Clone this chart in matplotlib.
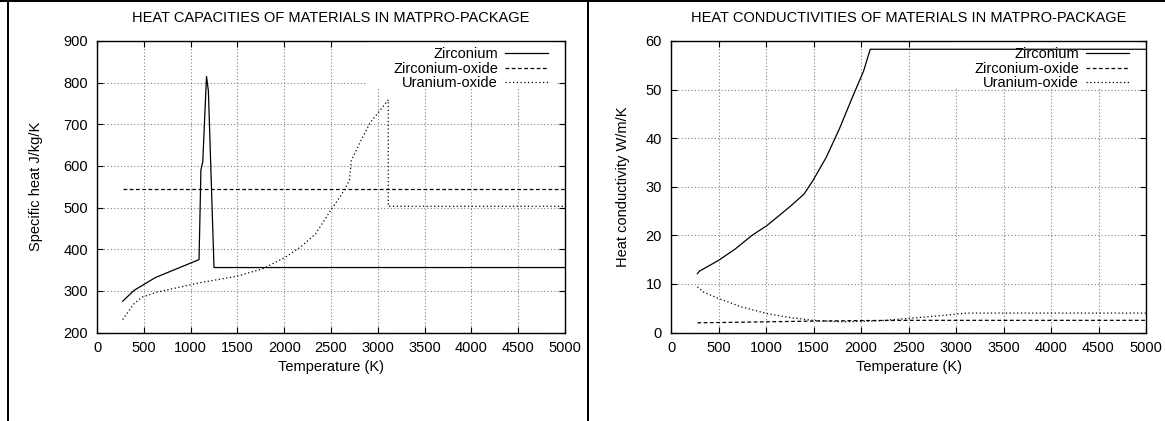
import matplotlib
matplotlib.use("Agg")
import matplotlib.pyplot as plt
from matplotlib.lines import Line2D
from matplotlib.patches import Rectangle

plt.rcParams['font.family'] = ['Liberation Sans', 'DejaVu Sans']
FS = 10.5

# ---------------- data ----------------
# Specific heat (J/kg/K)
zr_cp_T = [274, 395, 624, 1090, 1100, 1110, 1130, 1170, 1190, 1250, 5000]
zr_cp_v = [275, 301, 332, 375, 480, 590, 610, 815, 780, 356, 356]
zro2_cp_T = [274, 5000]
zro2_cp_v = [544, 544]
uo2_cp_T = [274, 395, 483, 644, 1087, 1490, 1771, 2013, 2174, 2335, 2496, 2617, 2697,
            2717, 2818, 2919, 3019, 3112, 3112, 5000]
uo2_cp_v = [231, 269, 285, 297, 319, 335, 353, 381, 405, 437, 493, 533, 565,
            613, 660, 704, 732, 759, 503, 503]

# Heat conductivity (W/m/K)
zr_k_T = [278, 297, 501, 677, 853, 1009, 1264, 1401, 1498, 1635, 1772, 1909, 2027, 2097, 5000]
zr_k_v = [12.1, 12.6, 14.85, 17.2, 20.0, 22.0, 26.1, 28.5, 31.4, 36.1, 41.9, 48.4, 53.8, 58.3, 58.3]
zro2_k_T = [278, 500, 1000, 1500, 2000, 2500, 5000]
zro2_k_v = [2.0, 2.05, 2.2, 2.35, 2.45, 2.5, 2.5]
uo2_k_T = [278, 344, 501, 736, 1009, 1244, 1498, 1792, 2183, 2496, 2770, 3005, 3112, 5000]
uo2_k_v = [9.4, 8.3, 7.0, 5.3, 3.9, 3.1, 2.5, 2.2, 2.4, 2.9, 3.35, 3.8, 4.0, 4.0]

labels = ["Zirconium", "Zirconium-oxide", "Uranium-oxide"]
xticks = list(range(0, 5001, 500))
cp_yticks = list(range(200, 901, 100))
k_yticks = list(range(0, 61, 10))

titles = ["HEAT CAPACITIES OF MATERIALS IN MATPRO-PACKAGE",
          "HEAT CONDUCTIVITIES OF MATERIALS IN MATPRO-PACKAGE"]
ylabels = ["Specific heat J/kg/K", "Heat conductivity W/m/K"]
xlabel = "Temperature (K)"

# ---------------- figure ----------------
W, H = 1165, 421
fig = plt.figure(figsize=(W / 100, H / 100), dpi=100)

styles = [dict(color='black', lw=0.9, ls='-'),
          dict(color='black', lw=0.9, ls=(0, (3, 2))),
          dict(color='black', lw=0.9, ls=(0, (1, 2)))]


def px_axes(x0, x1, ytop, ybot):
    return fig.add_axes([x0 / W, (H - ybot) / H, (x1 - x0) / W, (ybot - ytop) / H])


panels = [
    dict(box=(97, 565, 41, 332.5), data=[(zr_cp_T, zr_cp_v), (zro2_cp_T, zro2_cp_v), (uo2_cp_T, uo2_cp_v)],
         ylim=(200, 900), yticks=cp_yticks, ylabx=36, legbox=(367, 557)),
    dict(box=(671, 1146, 41, 332.5), data=[(zr_k_T, zr_k_v), (zro2_k_T, zro2_k_v), (uo2_k_T, uo2_k_v)],
         ylim=(0, 60), yticks=k_yticks, ylabx=623, legbox=(949, 1138)),
]

for i, p in enumerate(panels):
    x0, x1, yt, yb = p['box']
    ax = px_axes(x0, x1, yt, yb)
    aw, ah = x1 - x0, yb - yt
    handles = []
    for (T, v), st, lab in zip(p['data'], styles, labels):
        h, = ax.plot(T, v, zorder=3, label=lab, **st)
        handles.append(h)
    ax.set_xlim(0, 5000)
    ax.set_ylim(*p['ylim'])
    ax.set_xticks(xticks)
    ax.set_yticks(p['yticks'])
    ax.set_axisbelow(True)
    ax.grid(True, color='#808080', lw=0.8, ls=(0, (1, 2)))
    ax.tick_params(direction='in', length=4, width=0.8, top=True, right=True,
                   labelsize=FS, color='black')
    ax.tick_params(axis='y', pad=6.5)
    ax.tick_params(axis='x', pad=6)
    for s in ax.spines.values():
        s.set_linewidth(1.0)
        s.set_color('black')
    # cleared key area
    lx0, lx1 = p['legbox']
    ax.add_patch(Rectangle(((lx0 - x0) / aw, (yb - 89) / ah), (lx1 - lx0) / aw, (89 - yt) / ah,
                           transform=ax.transAxes, facecolor='white', edgecolor='none', zorder=1))
    leg = ax.legend(handles=handles, loc='upper right', markerfirst=False, frameon=False,
                    fontsize=FS, handlelength=2.9, handletextpad=0.5, labelspacing=0.02,
                    borderpad=0.4, borderaxespad=0,
                    bbox_to_anchor=(1 - 11.5 / aw, 1 - 0.5 / ah))
    leg.set_zorder(4)
    # titles and labels
    fig.text((x0 + x1) / 2 / W, 1 - 18 / H, titles[i], ha='center', va='center', fontsize=FS)
    fig.text((x0 + x1) / 2 / W, 1 - 367 / H, xlabel, ha='center', va='center', fontsize=FS)
    fig.text(p['ylabx'] / W, 1 - (yt + yb) / 2 / H, ylabels[i], ha='center', va='center',
             rotation=90, fontsize=FS)

# frame lines of the page
lw_px = 2
fig.add_artist(Line2D([0, 1], [1 - 1 / H, 1 - 1 / H], transform=fig.transFigure,
                      color='black', lw=lw_px * 0.72))
for xp in (7.5, 588):
    fig.add_artist(Line2D([xp / W, xp / W], [0, 1], transform=fig.transFigure,
                          color='black', lw=lw_px * 0.72))

fig.savefig("out.png", dpi=100)
